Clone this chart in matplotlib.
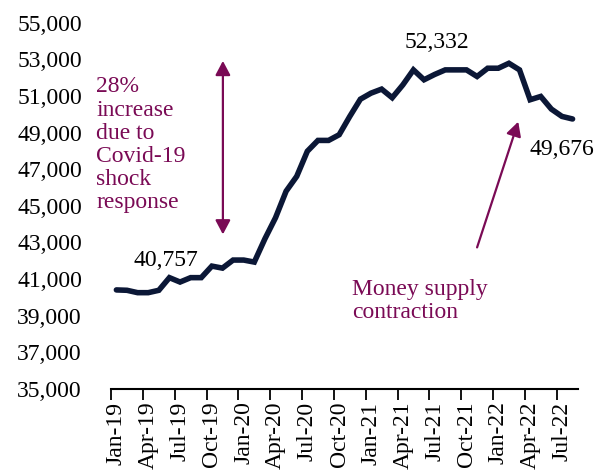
import matplotlib
matplotlib.use('Agg')
import matplotlib.pyplot as plt
import numpy as np

months = ['Jan-19', 'Feb-19', 'Mar-19', 'Apr-19', 'May-19', 'Jun-19', 'Jul-19', 'Aug-19', 'Sep-19', 'Oct-19',
          'Nov-19', 'Dec-19', 'Jan-20', 'Feb-20', 'Mar-20', 'Apr-20', 'May-20', 'Jun-20', 'Jul-20', 'Aug-20',
          'Sep-20', 'Oct-20', 'Nov-20', 'Dec-20', 'Jan-21', 'Feb-21', 'Mar-21', 'Apr-21', 'May-21', 'Jun-21',
          'Jul-21', 'Aug-21', 'Sep-21', 'Oct-21', 'Nov-21', 'Dec-21', 'Jan-22', 'Feb-22', 'Mar-22', 'Apr-22',
          'May-22', 'Jun-22', 'Jul-22', 'Aug-22']
money_supply = [40410, 40390, 40260, 40260, 40390, 41080, 40840, 41080, 41080, 41710,
                41600, 42040, 42040, 41930, 43200, 44350, 45800, 46610, 47980, 48570,
                48570, 48880, 49880, 50820, 51150, 51370, 50900, 51600, 52420, 51880,
                52170, 52420, 52420, 52420, 52060, 52510, 52510, 52780, 52420, 50790,
                50970, 50280, 49880, 49740]
y_ticks = np.arange(35000, 55001, 2000)

navy = '#0b1736'
purple = '#7a0a55'

plt.rcParams['font.family'] = ['Liberation Serif', 'DejaVu Serif']

fig = plt.figure(figsize=(6.07, 4.71), dpi=100)
ax = fig.add_axes([0.183, 0.174, 0.769, 0.778])

x = np.arange(len(money_supply))
ax.plot(x, money_supply, color=navy, lw=4.0, solid_joinstyle='miter', solid_capstyle='round')

ax.set_xlim(-0.5, len(months) - 0.5)
ax.set_ylim(35000, 55000)
ax.set_yticks(y_ticks)
ax.set_yticklabels(['{:,}'.format(v) for v in y_ticks], fontsize=17)
ax.tick_params(axis='y', length=0, pad=21)

lab_idx = list(range(0, len(months), 3))
ax.set_xticks(lab_idx)
ax.set_xticklabels([months[i] for i in lab_idx], rotation=90, fontsize=17)
ax.set_xticks([i - 0.5 for i in lab_idx], minor=True)
ax.tick_params(axis='x', which='major', length=0, pad=9)
ax.tick_params(axis='x', which='minor', length=8, width=1.3, direction='out')

for s in ['top', 'right', 'left']:
    ax.spines[s].set_visible(False)
ax.spines['bottom'].set_linewidth(1.5)

# data labels
ax.text(4.7, 42000, '40,757', fontsize=17, ha='center', va='center')
ax.text(30.2, 53900, '52,332', fontsize=17, ha='center', va='center')
ax.text(42.0, 48070, '49,676', fontsize=17, ha='center', va='center')

# covid annotation
ax.text(-1.9, 48340, '28%\nincrease\ndue to\nCovid-19\nshock\nresponse', fontsize=17,
        color=purple, ha='left', va='center', linespacing=1.13)
ax.annotate('', xy=(10.04, 52910), xytext=(10.04, 43440),
            arrowprops=dict(arrowstyle='<|-|>,head_width=0.45,head_length=0.85',
                            color=purple, lw=1.6, shrinkA=0, shrinkB=0))

# contraction annotation
ax.text(22.2, 39820, 'Money supply\ncontraction', fontsize=17, color=purple,
        ha='left', va='center', linespacing=1.13)
ax.annotate('', xy=(37.88, 49590), xytext=(34.0, 42730),
            arrowprops=dict(arrowstyle='-|>,head_width=0.45,head_length=0.85',
                            color=purple, lw=1.6, shrinkA=0, shrinkB=0))

fig.savefig('out.png', dpi=100)
